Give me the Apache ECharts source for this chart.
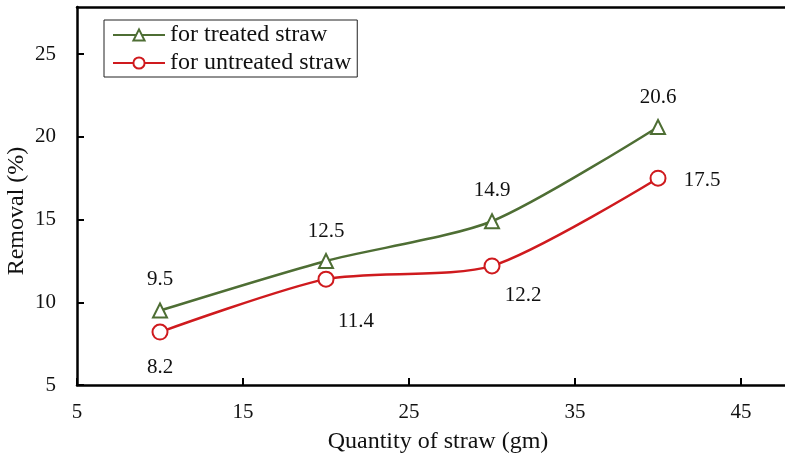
<!DOCTYPE html>
<html>
<head>
<meta charset="utf-8">
<script src="https://cdn.jsdelivr.net/npm/echarts@6/dist/echarts.min.js"></script>
<style>html,body{margin:0;padding:0;background:#fff;}#c{width:785px;height:457px;}</style>
</head>
<body>
<div id="c"></div>
<script>
var quantities = [10, 20, 30, 40];
var treated = [9.5, 12.5, 14.9, 20.6];
var untreated = [8.2, 11.4, 12.2, 17.5];
var seriesNames = ['for treated straw', 'for untreated straw'];
var xTitle = 'Quantity of straw (gm)';
var yTitle = 'Removal (%)';

var FONT = '"Liberation Serif", "Times New Roman", serif';
var GREEN = '#4e6e34';
var RED = '#cf1a1e';

var treatedLabelOffsets = [[0, -31], [0, -29], [0, -31], [0, -29]];
var untreatedLabelOffsets = [[0, 35], [30, 42], [31, 30], [44, 2]];

function pts(vals, offs) {
  return quantities.map(function (q, i) {
    return { value: [q, vals[i]], label: { offset: offs[i] } };
  });
}

var axisLineStyle = { color: '#000', width: 2.5 };

var chart = echarts.init(document.getElementById('c'), null, { renderer: 'canvas' });
chart.setOption({
  animation: false,
  textStyle: { fontFamily: FONT },
  grid: { left: 77, top: 7, right: 0, bottom: 72, containLabel: false, outerBoundsMode: 'none' },
  legend: {
    left: 104, top: 20, orient: 'vertical', itemGap: 4,
    itemWidth: 52, itemHeight: 14,
    borderColor: '#222', borderWidth: 1, padding: [3, 6, 2, 8],
    textStyle: { fontFamily: FONT, fontSize: 24, color: '#111' },
    data: seriesNames
  },
  xAxis: [{
    type: 'value', min: 5, max: 47.65, interval: 10,
    name: xTitle, nameLocation: 'middle', nameGap: 45,
    nameTextStyle: { fontFamily: FONT, fontSize: 24, color: '#111', padding: [0, 0, 0, 14] },
    axisLine: { onZero: false, lineStyle: axisLineStyle },
    axisTick: { inside: true, length: 7, lineStyle: { color: '#000', width: 2 } },
    axisLabel: { fontFamily: FONT, fontSize: 21, color: '#111', margin: 17, showMaxLabel: false },
    splitLine: { show: false }
  }, {
    type: 'value', position: 'top', min: 5, max: 47.65,
    axisLine: { show: true, onZero: false, lineStyle: axisLineStyle },
    axisTick: { show: false }, axisLabel: { show: false }, splitLine: { show: false }
  }],
  yAxis: {
    type: 'value', min: 5, max: 27.85, interval: 5,
    name: yTitle, nameLocation: 'middle', nameGap: 48, nameMoveOverlap: false,
    nameTextStyle: { fontFamily: FONT, fontSize: 24, color: '#111', padding: [0, 30, 0, 0] },
    axisLine: { onZero: false, lineStyle: axisLineStyle },
    axisTick: { inside: true, length: 7, lineStyle: { color: '#000', width: 2 } },
    axisLabel: { fontFamily: FONT, fontSize: 21, color: '#111', margin: 21, showMaxLabel: false },
    splitLine: { show: false }
  },
  series: [
    {
      name: seriesNames[0], type: 'line', smooth: 0.25,
      data: pts(treated, treatedLabelOffsets),
      symbol: 'triangle', symbolSize: 14,
      itemStyle: { color: '#fff', borderColor: GREEN, borderWidth: 2 },
      lineStyle: { color: GREEN, width: 2.5 },
      label: { show: true, position: 'inside', fontFamily: FONT, fontSize: 21, color: '#111',
        formatter: function (p) { return p.value[1].toFixed(1); } }
    },
    {
      name: seriesNames[1], type: 'line', smooth: 0.25,
      data: pts(untreated, untreatedLabelOffsets),
      symbol: 'circle', symbolSize: 15,
      itemStyle: { color: '#fff', borderColor: RED, borderWidth: 2 },
      lineStyle: { color: RED, width: 2.5 },
      label: { show: true, position: 'inside', fontFamily: FONT, fontSize: 21, color: '#111',
        formatter: function (p) { return p.value[1].toFixed(1); } }
    }
  ]
});
</script>
</body>
</html>
